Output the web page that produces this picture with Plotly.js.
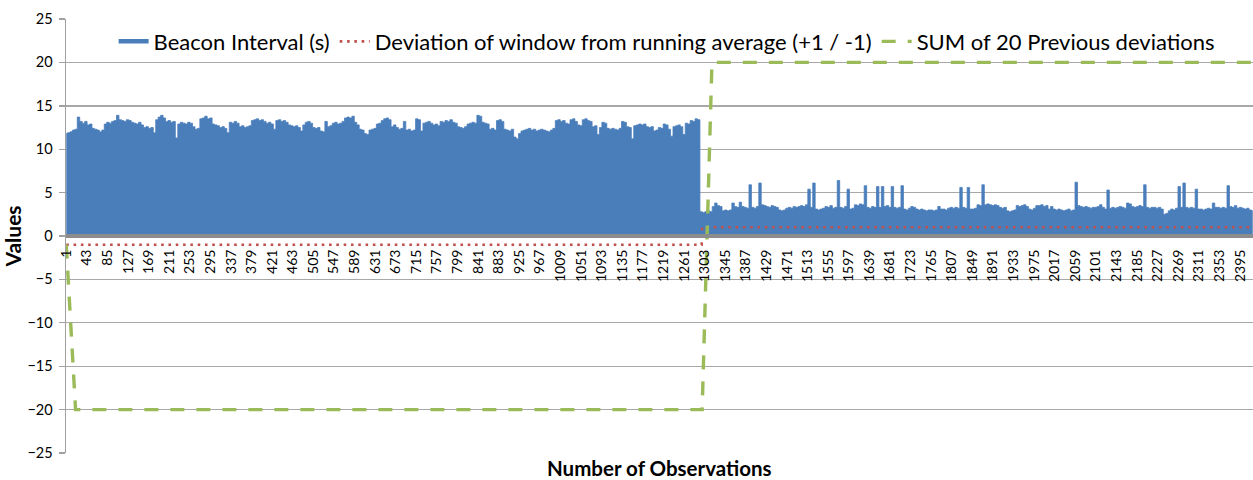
<!DOCTYPE html>
<html>
<head>
<meta charset="utf-8">
<script src="https://cdn.plot.ly/plotly-3.0.1.min.js"></script>
<style>
  html, body { margin: 0; padding: 0; background: #ffffff; }
  #chart { width: 1253px; height: 480px; }
</style>
</head>
<body>
<div id="chart"></div>
<script>
// ---- Data ----
// Beacon Interval (s): one value every 5 observations, starting at observation 1
const beaconStartObs = 1;
const beaconStepObs = 5;
const beaconInterval = [
  11.8, 11.9, 12.0, 12.2, 12.3, 13.7, 13.2, 13.0, 13.2, 12.8,
  12.9, 12.4, 12.3, 12.2, 12.0, 12.2, 12.9, 13.1, 13.0, 13.2,
  13.3, 13.9, 13.4, 13.3, 13.2, 13.4, 13.3, 13.1, 13.0, 12.9,
  13.1, 12.8, 12.5, 12.6, 12.4, 12.5, 11.9, 13.4, 13.7, 13.9,
  13.6, 13.2, 13.3, 13.1, 13.2, 11.3, 12.9, 13.1, 13.0, 12.9,
  13.1, 13.0, 12.6, 12.3, 12.4, 13.5, 13.6, 13.8, 13.5, 13.6,
  12.9, 12.8, 12.7, 12.5, 12.6, 12.4, 11.9, 13.1, 13.0, 13.2,
  13.0, 12.6, 12.7, 12.5, 12.6, 12.7, 13.3, 13.4, 13.5, 13.3,
  13.4, 13.2, 13.0, 13.1, 12.9, 12.3, 13.3, 13.4, 13.2, 13.3,
  13.1, 12.8, 12.7, 12.6, 12.7, 12.5, 12.1, 12.8, 13.1, 13.2,
  13.0, 12.5, 12.4, 12.5, 12.1, 12.0, 13.2, 12.6, 12.7, 13.0,
  13.1, 12.9, 13.0, 13.2, 13.6, 13.7, 13.6, 13.8, 13.1, 12.8,
  12.3, 12.2, 11.8, 11.7, 12.2, 12.3, 12.4, 12.9, 13.0, 13.3,
  13.5, 13.6, 13.4, 12.6, 12.8, 12.5, 12.3, 12.4, 13.2, 12.2,
  12.3, 12.1, 12.2, 13.5, 13.4, 12.1, 13.0, 13.1, 13.2, 13.0,
  12.8, 12.9, 12.7, 13.2, 13.1, 13.3, 13.2, 13.4, 13.1, 13.0,
  12.6, 12.5, 12.4, 12.6, 12.9, 13.0, 13.1, 13.0, 13.9, 13.8,
  13.1, 13.0, 12.9, 12.3, 12.4, 12.2, 13.3, 13.4, 13.2, 12.3,
  12.2, 12.1, 12.3, 11.4, 11.2, 11.8, 12.1, 12.2, 12.3, 12.4,
  12.2, 12.3, 12.1, 12.2, 12.3, 12.2, 12.1, 12.0, 12.2, 12.4,
  13.3, 13.4, 13.2, 13.3, 13.0, 12.9, 13.4, 13.5, 13.2, 12.8,
  12.7, 13.4, 13.5, 13.3, 13.2, 12.6, 12.7, 11.7, 12.5, 13.1,
  13.0, 12.4, 12.3, 12.4, 12.3, 12.2, 12.4, 13.2, 13.1, 12.6,
  12.5, 11.2, 12.7, 12.8, 12.9, 12.8, 12.9, 12.6, 12.5, 12.6,
  12.1, 12.2, 12.5, 12.4, 12.9, 12.8, 12.3, 11.5, 12.6, 12.7,
  12.8, 12.6, 11.7, 13.0, 12.9, 13.3, 13.2, 13.5, 13.4, 2.8,
  2.7, 2.8, 2.9, 2.8, 3.4, 3.8, 3.5, 3.4, 2.9, 3.0,
  2.9, 3.0, 3.8, 3.4, 3.3, 3.9, 3.4, 3.3, 3.2, 5.9,
  3.3, 3.2, 3.4, 6.1, 3.6, 3.5, 3.4, 3.3, 3.5, 3.4,
  3.3, 3.0, 2.9, 3.0, 3.2, 3.3, 3.2, 3.4, 3.3, 3.4,
  3.5, 3.4, 3.6, 5.4, 3.3, 6.1, 3.1, 3.0, 3.1, 3.2,
  3.4, 3.3, 3.5, 3.2, 3.3, 6.4, 3.3, 3.2, 3.4, 5.4,
  3.1, 3.2, 3.6, 3.5, 3.7, 3.6, 5.8, 3.3, 3.2, 3.4,
  3.3, 5.7, 3.3, 5.7, 3.4, 3.5, 3.3, 5.7, 3.3, 3.2,
  3.3, 5.8, 3.1, 3.0, 3.2, 3.4, 3.3, 3.1, 3.0, 3.1,
  3.0, 2.9, 3.0, 3.0, 2.9, 3.0, 3.4, 3.1, 3.1, 3.0,
  3.2, 3.3, 3.2, 3.3, 3.2, 5.6, 3.3, 3.2, 5.6, 3.1,
  3.1, 3.2, 3.6, 3.5, 5.9, 3.6, 3.7, 3.6, 3.5, 3.6,
  3.5, 3.3, 3.2, 3.3, 2.9, 2.8, 2.9, 3.0, 3.5, 3.4,
  3.5, 3.6, 3.4, 3.1, 3.0, 3.2, 3.5, 3.5, 3.6, 3.4,
  3.5, 3.1, 3.4, 3.1, 3.0, 3.1, 3.0, 2.9, 3.0, 3.1,
  2.9, 3.0, 6.2, 3.5, 3.4, 3.3, 3.4, 3.3, 3.2, 3.3,
  3.3, 3.4, 3.6, 3.3, 3.1, 5.3, 3.2, 3.3, 3.2, 3.3,
  3.4, 3.3, 3.2, 3.8, 3.7, 3.4, 3.3, 3.4, 3.5, 3.4,
  5.9, 3.3, 3.2, 3.3, 3.3, 3.2, 3.3, 3.1, 2.5, 2.6,
  2.9, 3.1, 3.0, 3.2, 5.7, 3.3, 6.1, 3.3, 3.2, 3.3,
  3.2, 5.4, 3.1, 3.1, 3.0, 3.1, 3.2, 3.1, 3.8, 3.3,
  3.3, 3.2, 3.3, 3.2, 5.8, 3.4, 3.3, 3.5, 3.2, 3.3,
  3.2, 3.1, 3.2, 3.0, 2.9
];

// Deviation of window from running average (+1 / -1): observation where the value changes
const deviationObs = [1, 1297, 1298, 2421];
const deviationVal = [-1, -1, 1, 1];

// SUM of 20 previous deviations
const sumObs = [1, 20, 1298, 1318, 2421];
const sumVal = [-1, -20, -20, 20, 20];

// Axis / text
const totalObs = 2421;
const firstTick = 1;
const tickEvery = 42;
const yTicks = [-25, -20, -15, -10, -5, 0, 5, 10, 15, 20, 25];
const seriesNames = ['Beacon Interval (s)', 'Deviation of window from running average (+1 / -1)', 'SUM of 20 Previous deviations'];
const xTitle = 'Number of Observations';
const yTitle = 'Values';

// ---- Build chart ----
const beaconX = beaconInterval.map((v, i) => beaconStartObs + i * beaconStepObs);
const FONT = 'Lato, "Open Sans", sans-serif';
const BLUE = '#4a7ebb', RED = '#c0504d', GREEN = '#9bbb59';

const traces = [
  { // filled area (legend handled by the legend entry below)
    x: beaconX, y: beaconInterval, type: 'scatter', mode: 'lines',
    fill: 'tozeroy', fillcolor: BLUE, line: {color: BLUE, width: 0.8, shape: 'hvh'},
    showlegend: false, hoverinfo: 'skip'
  },
  { // legend entry for the area
    x: [null], y: [null], type: 'scatter', mode: 'lines',
    name: seriesNames[0], line: {color: BLUE, width: 4.5}, showlegend: true
  },
  {
    x: deviationObs, y: deviationVal, type: 'scatter', mode: 'lines',
    name: seriesNames[1], line: {color: RED, width: 2.6, dash: '2.6px,4.7px'}
  },
  {
    x: sumObs, y: sumVal, type: 'scatter', mode: 'lines',
    name: seriesNames[2], line: {color: GREEN, width: 3.4, dash: '14px,12px'}
  }
];

const layout = {
  width: 1253, height: 480,
  margin: {l: 66, r: 0, t: 19, b: 27, pad: 0},
  paper_bgcolor: '#ffffff', plot_bgcolor: '#ffffff',
  font: {family: FONT, color: '#000000'},
  showlegend: true,
  legend: {
    orientation: 'h', x: 0.506, xanchor: 'center', y: 0.948, yanchor: 'middle',
    bgcolor: 'rgba(0,0,0,0)', font: {family: FONT, size: 22, color: '#000'},
    traceorder: 'normal', itemwidth: 30
  },
  xaxis: {
    type: 'linear', range: [0.5, totalObs + 0.5],
    anchor: 'free', position: 0.5,
    showgrid: false, zeroline: false,
    showline: true, linecolor: '#8c8c8c', linewidth: 4,
    tickmode: 'linear', tick0: firstTick, dtick: tickEvery,
    ticks: '', tickangle: -90, ticklabelstandoff: 6,
    tickfont: {family: FONT, size: 14, color: '#000'},
    layer: 'above traces'
  },
  yaxis: {
    range: [-25, 25], tickmode: 'array', tickvals: yTicks,
    showgrid: true, gridcolor: '#a8a8a8', gridwidth: 1.4,
    zeroline: false,
    showline: true, linecolor: '#a0a0a0', linewidth: 1.4,
    ticks: 'outside', ticklen: 6, tickcolor: '#a0a0a0', tickwidth: 1.4,
    ticklabelstandoff: 3,
    tickfont: {family: FONT, size: 14.5, color: '#000'},
    title: {text: yTitle, font: {family: FONT, size: 21, color: '#000', weight: 'bold'}, standoff: 5}
  },
  annotations: [{
    text: '<b>' + xTitle + '</b>', xref: 'paper', yref: 'paper',
    x: 0.5, y: -0.034, xanchor: 'center', yanchor: 'middle', showarrow: false,
    font: {family: FONT, size: 20.5, color: '#000'}
  }]
};

Plotly.newPlot('chart', traces, layout, {displayModeBar: false, staticPlot: true});
</script>
</body>
</html>
